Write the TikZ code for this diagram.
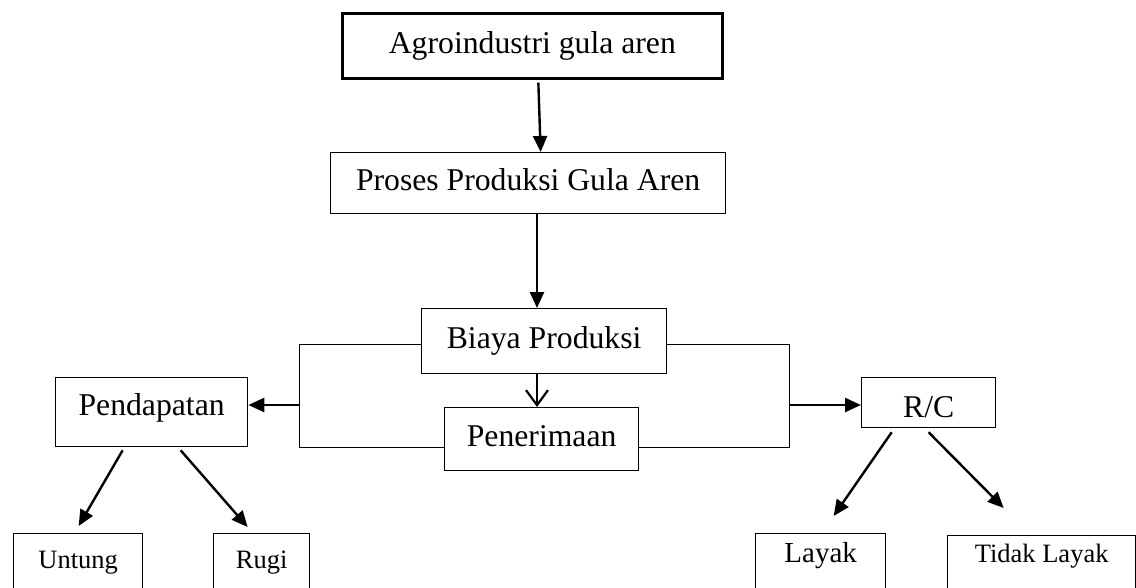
\documentclass[tikz,border=0pt]{standalone}
\usepackage{fontspec}
\setmainfont{Liberation Serif}
\usetikzlibrary{arrows.meta,calc}
\begin{document}
\begin{tikzpicture}[x=1pt,y=-1pt,
  box/.style={draw,line width=1.3pt,inner sep=0pt,anchor=north west,
    font=\fontsize{31.7}{36}\selectfont,text height=22pt,text depth=7pt},
  smallbox/.style={box,font=\fontsize{26.5}{30}\selectfont},
  arr/.style={line width=2.4pt,-{Triangle[length=16pt,width=14pt]}},
  openarr/.style={line width=2.2pt,-{Straight Barb[length=15pt,width=22pt]}},
  bracket/.style={line width=1pt}]
\useasboundingbox (0,0) rectangle (1136,587);
% boxes
\node[box,line width=2.7pt,minimum width=380pt,minimum height=65pt] (agro) at (341,12) {Agroindustri gula aren};
\node[box,minimum width=395pt,minimum height=61pt] (proses) at (330,152) {Proses Produksi Gula Aren};
\node[box,minimum width=245pt,minimum height=65pt] (biaya) at (421,308) {Biaya Produksi};
\node[box,minimum width=194pt,minimum height=63pt] (pen) at (444,407) {Penerimaan};
\node[box,minimum width=192pt,minimum height=69pt,text height=21pt,text depth=14pt] (pend) at (55,377) {Pendapatan};
\node[box,minimum width=134pt,minimum height=50pt,text height=30pt,text depth=0pt] (rc) at (861,377) {R/C};
\node[smallbox,minimum width=129pt,minimum height=58pt,text height=18pt,text depth=6pt] (untung) at (13,533) {Untung};
\node[smallbox,minimum width=96pt,minimum height=58pt,text height=18pt,text depth=6pt] (rugi) at (213,533) {Rugi};
\node[box,font=\fontsize{29}{32}\selectfont,minimum width=130pt,minimum height=67pt,text height=10pt,text depth=19pt] (layak) at (755,533) {Layak};
\node[smallbox,minimum width=188pt,minimum height=65pt,text height=10pt,text depth=21pt] (tidak) at (947,535) {Tidak Layak};
% helper coordinates
\coordinate (cx) at (537,0);
\coordinate (lt) at (299,344);
\coordinate (lb) at (299,447);
\coordinate (lmid) at (299,405);
\coordinate (rt) at (789,344);
\coordinate (rb) at (789,447);
\coordinate (rmid) at (789,405);
% vertical flow
\draw[arr] ($(agro.south)+(6,3)$) -- ($(proses.north)+(12.5,0)$);
\draw[arr] (proses.south -| cx) -- (biaya.north -| cx);
\draw[openarr] (biaya.south -| cx) -- (pen.north -| cx);
% brackets
\draw[bracket] (biaya.west |- lt) -- (lt) -- (lb) -- (pen.west |- lb);
\draw[bracket] (biaya.east |- rt) -- (rt) -- (rb) -- (pen.east |- rb);
\draw[arr] (lmid) -- (pend.east |- lmid);
\draw[arr] ($(rmid)+(1,0)$) -- (rc.west |- rmid);
% branches
\draw[arr] ($(pend.south)+(-29,3)$) -- ($(untung.north)+(0.5,-7)$);
\draw[arr] ($(pend.south)+(29,3)$) -- ($(rugi.north)+(-14,-6)$);
\draw[arr] ($(rc.south)+(-37,4)$) -- ($(layak.north)+(13,-17)$);
\draw[arr] ($(rc.south)+(0,4)$) -- ($(tidak.north)+(-38,-27)$);
\end{tikzpicture}
\end{document}
